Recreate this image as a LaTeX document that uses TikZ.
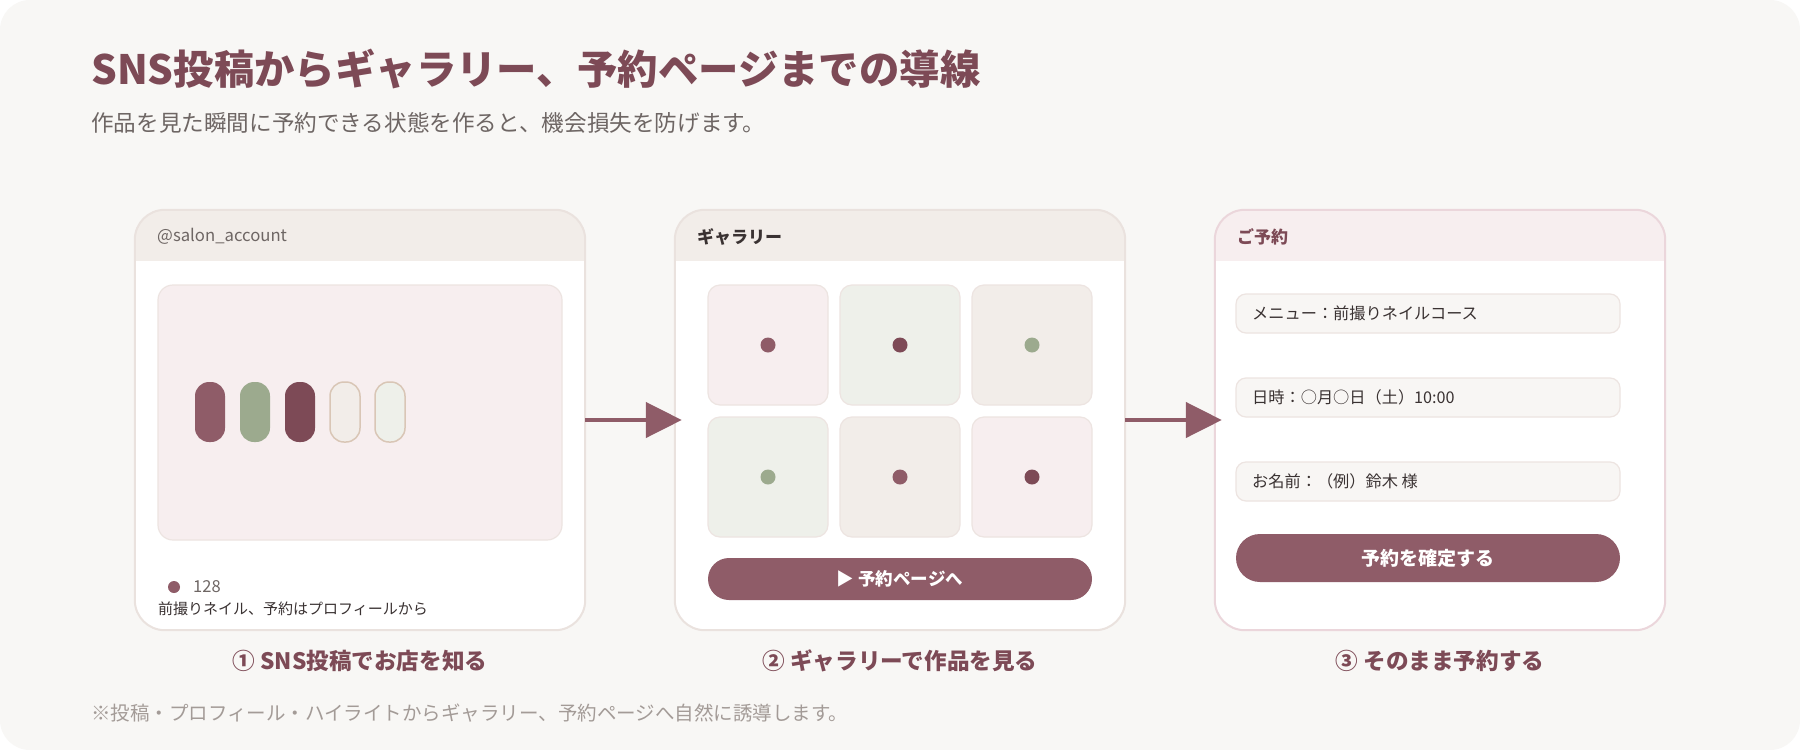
\documentclass[tikz,border=0pt]{standalone}
\usepackage{fontspec}
\setmainfont{Noto Sans CJK JP}
\usetikzlibrary{arrows.meta}
\definecolor{bg}{HTML}{F8F7F5}
\definecolor{fieldbg}{HTML}{F8F6F4}
\definecolor{wine}{HTML}{8F5C68}
\definecolor{dwine}{HTML}{7D4A56}
\definecolor{sage}{HTML}{9CAA8E}
\definecolor{pinkbg}{HTML}{F7EEEF}
\definecolor{greenbg}{HTML}{EEF0EA}
\definecolor{beigebg}{HTML}{F2EDE9}
\definecolor{cardline}{HTML}{EAE2DE}
\definecolor{pinkline}{HTML}{EBD6DB}
\definecolor{tileline}{HTML}{EDE4E1}
\definecolor{nailline}{HTML}{D9C6B6}
\definecolor{txt}{HTML}{3A3232}
\definecolor{gray1}{HTML}{6E6664}
\definecolor{gray2}{HTML}{A39B97}
\newcommand{\fsz}[1]{\fontsize{#1pt}{#1pt}\selectfont}
\tikzset{
  card/.style={fill=white, rounded corners=30pt, minimum width=450pt, minimum height=420pt, inner sep=0pt},
  cardedge/.style={draw=cardline, line width=2pt, rounded corners=30pt},
  tile/.style={minimum width=120pt, minimum height=120pt, rounded corners=12pt, draw=tileline, line width=1.2pt, inner sep=0pt},
  dotc/.style={circle, minimum size=15pt, inner sep=0pt},
  nail/.style={minimum width=30pt, minimum height=60pt, rounded corners=14pt, inner sep=0pt},
  field/.style={minimum width=384pt, minimum height=39pt, rounded corners=10pt, fill=fieldbg, draw=tileline, line width=1.2pt, inner sep=0pt},
  btn/.style={fill=wine, text=white, font=\fsz{17.5}\bfseries, inner sep=0pt},
  lbl/.style={anchor=west, inner sep=0pt},
  caption/.style={font=\fsz{22.6}\bfseries, text=dwine, inner sep=0pt},
  flow/.style={draw=wine, line width=4.5pt, -{Triangle[length=36pt,width=35pt]}, shorten >=-7pt},
}
\begin{document}
\begin{tikzpicture}[x=1pt,y=-1pt]
\useasboundingbox (0,0) rectangle (1800,750);
\fill[white] (0,0) rectangle (1800,750);
\fill[bg, rounded corners=30pt] (0,0) rectangle (1800,750);

% titles
\node[lbl, font=\fsz{40.4}\bfseries, text=dwine] (title) at (91,69) {SNS投稿からギャラリー、予約ページまでの導線};
\node[lbl, font=\fsz{22.6}, text=gray1] (sub) at (91,123) {作品を見た瞬間に予約できる状態を作ると、機会損失を防げます。};

% ---------- card 1
\node[card] (p1) at (360,420) {};
\begin{scope}
\clip[rounded corners=30pt] (p1.north west) rectangle (p1.south east);
\fill[beigebg] (p1.north west) rectangle ([yshift=-51pt]p1.north east);
\end{scope}
\draw[cardedge] (p1.north west) rectangle (p1.south east);
\node[lbl, font=\fsz{16.7}, text=gray1] (h1) at (157,236) {@salon\_account};
\node[minimum width=404pt, minimum height=255pt, rounded corners=15pt, fill=pinkbg, draw=tileline, line width=1.2pt] (img) at (360,412.5) {};
\node[nail, fill=wine] (n1) at (210,412) {};
\node[nail, fill=sage] (n2) at (255,412) {};
\node[nail, fill=dwine] (n3) at (300,412) {};
\node[nail, fill=beigebg, draw=nailline, line width=1.5pt] (n4) at (345,412) {};
\node[nail, fill=greenbg, draw=nailline, line width=1.5pt] (n5) at (390,412) {};
\node[circle, fill=wine, minimum size=12pt, inner sep=0pt] (likedot) at (174,587) {};
\node[lbl, font=\fsz{16.5}, text=gray1] (likes) at (193,587) {128};
\node[lbl, font=\fsz{15}, text=txt] (cap1) at (158,609) {前撮りネイル、予約はプロフィールから};

% ---------- card 2
\node[card] (p2) at (900,420) {};
\begin{scope}
\clip[rounded corners=30pt] (p2.north west) rectangle (p2.south east);
\fill[beigebg] (p2.north west) rectangle ([yshift=-51pt]p2.north east);
\end{scope}
\draw[cardedge] (p2.north west) rectangle (p2.south east);
\node[lbl, font=\fsz{17}\bfseries, text=txt] (h2) at (697,237) {ギャラリー};
\node[tile, fill=pinkbg] (t11) at (768,345) {};
\node[tile, fill=greenbg] (t12) at (900,345) {};
\node[tile, fill=beigebg] (t13) at (1032,345) {};
\node[tile, fill=greenbg] (t21) at (768,477) {};
\node[tile, fill=beigebg] (t22) at (900,477) {};
\node[tile, fill=pinkbg] (t23) at (1032,477) {};
\node[dotc, fill=wine] (d11) at (t11) {};
\node[dotc, fill=dwine] (d12) at (t12) {};
\node[dotc, fill=sage] (d13) at (t13) {};
\node[dotc, fill=sage] (d21) at (t21) {};
\node[dotc, fill=wine] (d22) at (t22) {};
\node[dotc, fill=dwine] (d23) at (t23) {};
\node[btn, minimum width=384pt, minimum height=42pt, rounded corners=21pt] (b2) at (900,579) {▶ 予約ページへ};

% ---------- card 3
\node[card] (p3) at (1440,420) {};
\begin{scope}
\clip[rounded corners=30pt] (p3.north west) rectangle (p3.south east);
\fill[pinkbg] (p3.north west) rectangle ([yshift=-51pt]p3.north east);
\end{scope}
\draw[cardedge, draw=pinkline] (p3.north west) rectangle (p3.south east);
\node[lbl, font=\fsz{17}\bfseries, text=dwine] (h3) at (1237,237) {ご予約};
\node[field] (f1) at (1428,313.5) {};
\node[field] (f2) at (1428,397.5) {};
\node[field] (f3) at (1428,481.5) {};
\node[lbl, font=\fsz{16.2}, text=txt] (f1t) at (1252,313.5) {メニュー：前撮りネイルコース};
\node[lbl, font=\fsz{16.2}, text=txt] (f2t) at (1252,397.5) {日時：○月○日（土）10:00};
\node[lbl, font=\fsz{16.2}, text=txt] (f3t) at (1252,481.5) {お名前：（例）鈴木 様};
\node[btn, font=\fsz{19}\bfseries, minimum width=384pt, minimum height=48pt, rounded corners=24pt] (b3) at (1428,558) {予約を確定する};

% arrows
\draw[flow] (p1.east) -- (p2.west);
\draw[flow] (p2.east) -- (p3.west);

% captions
\node[caption] (c1) at (360,661) {① SNS投稿でお店を知る};
\node[caption] (c2) at (900,661) {② ギャラリーで作品を見る};
\node[caption] (c3) at (1440,661) {③ そのまま予約する};

\node[lbl, font=\fsz{19.5}, text=gray2] (foot) at (91,713) {※投稿・プロフィール・ハイライトからギャラリー、予約ページへ自然に誘導します。};
\end{tikzpicture}
\end{document}
